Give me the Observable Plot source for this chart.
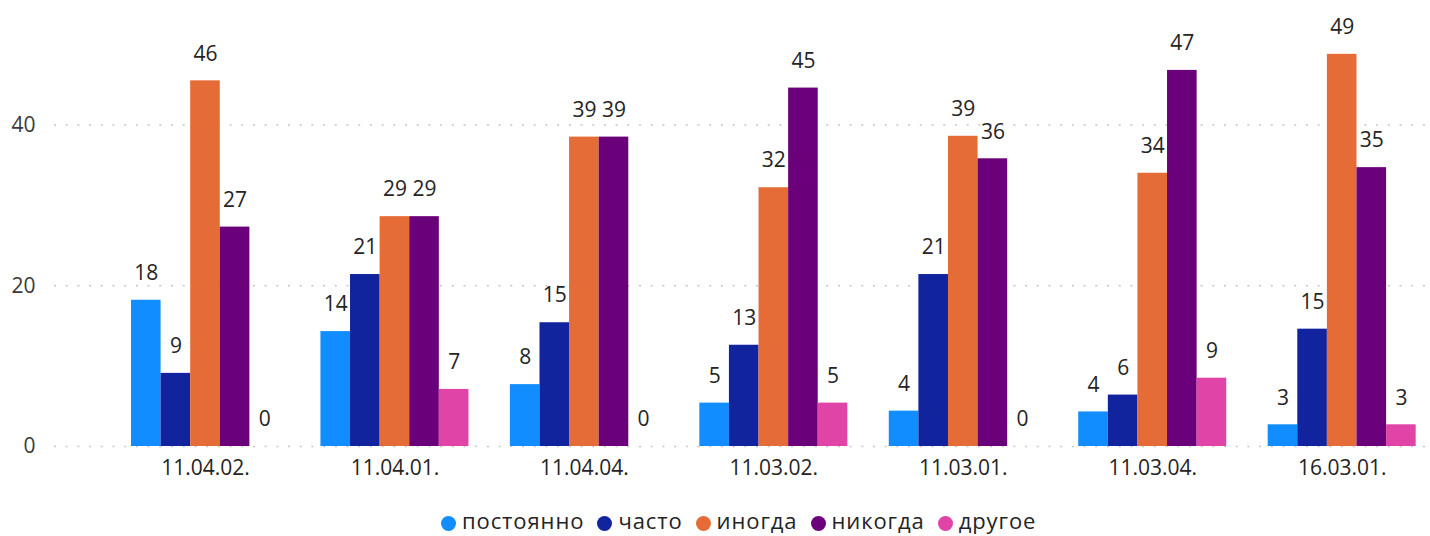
<!DOCTYPE html>
<html>
<head>
<meta charset="utf-8">
<script src="https://cdn.jsdelivr.net/npm/d3@7"></script>
<script src="https://cdn.jsdelivr.net/npm/@observablehq/plot@0.6"></script>
<style>
  html, body { margin: 0; background: #fff; overflow: hidden; }
  #chart { width: 1430px; }
  #plotArea { position: relative; width: 1430px; height: 490px; }
  #plotArea svg { position: absolute; left: 0; top: 0; }
  .legend { display: flex; align-items: center; height: 30px; line-height: 30px; padding-top: 15px; padding-left: 441px;
    font-family: "Segoe UI", "Open Sans", sans-serif; font-size: 22px; letter-spacing: 0.9px; color: #252423; }
  .legend .item { display: flex; align-items: center; margin-right: 13px; }
  .legend .dot { width: 15px; height: 15px; border-radius: 50%; margin-right: 6px; position: relative; top: 3px; }
</style>
</head>
<body>
<div id="chart"><div id="plotArea"></div></div>
<script>
const categories = ["11.04.02.", "11.04.01.", "11.04.04.", "11.03.02.", "11.03.01.", "11.03.04.", "16.03.01."];
const seriesNames = ["постоянно", "часто", "иногда", "никогда", "другое"];
const postoyanno = [18.2, 14.3, 7.7, 5.4, 4.4, 4.3, 2.7];
const chasto     = [9.1, 21.4, 15.4, 12.6, 21.4, 6.4, 14.6];
const inogda     = [45.5, 28.6, 38.5, 32.2, 38.6, 34.0, 48.8];
const nikogda    = [27.3, 28.6, 38.5, 44.6, 35.8, 46.8, 34.7];
const drugoe     = [0, 7.1, 0, 5.4, 0, 8.5, 2.7];
const seriesColors = ["#118DFF", "#12239E", "#E66C37", "#6B007B", "#E044A7"];
const yTicks = [0, 20, 40];

const seriesValues = [postoyanno, chasto, inogda, nikogda, drugoe];
const data = [];
categories.forEach((cat, i) => {
  seriesNames.forEach((s, j) => {
    data.push({cat, series: s, value: seriesValues[j][i]});
  });
});

const common = {
  width: 1430,
  height: 490,
  marginLeft: 54,
  marginRight: 2,
  marginTop: 4,
  marginBottom: 44
};
const font = "'Segoe UI', 'Open Sans', sans-serif";

// Background layer: y grid and y tick labels spanning the full plot width
const back = Plot.plot({
  ...common,
  style: {fontFamily: font, fontSize: "21px", color: "#3b3a39", background: "white"},
  y: {domain: [0, 55]},
  marks: [
    Plot.gridY(yTicks, {stroke: "#C8C6C4", strokeOpacity: 1, strokeWidth: 1.5, strokeDasharray: "2,9.7"}),
    Plot.axisY(yTicks, {tickSize: 0, tickPadding: 19, label: null, fill: "#3b3a39"})
  ]
});

// Foreground layer: grouped bars with fx facets
const front = Plot.plot({
  ...common,
  style: {fontFamily: font, fontSize: "21px", color: "#252423", background: "transparent"},
  fx: {domain: categories, paddingInner: 0.2188, paddingOuter: 0.2357, align: 0.862, round: false, label: null, tickSize: 0, tickPadding: 14, axis: "bottom"},
  x: {domain: seriesNames, padding: 0, round: false, axis: null},
  y: {domain: [0, 55], axis: null},
  color: {domain: seriesNames, range: seriesColors},
  marks: [
    Plot.barY(data, {fx: "cat", x: "series", y: "value", fill: "series"}),
    Plot.text(data, {fx: "cat", x: "series", y: "value", text: d => String(Math.round(d.value)), lineAnchor: "middle", dy: -27, fill: "#252423"})
  ]
});

const area = document.getElementById("plotArea");
area.appendChild(back);
area.appendChild(front);

const legend = document.createElement("div");
legend.className = "legend";
seriesNames.forEach((s, j) => {
  const item = document.createElement("div");
  item.className = "item";
  const dot = document.createElement("span");
  dot.className = "dot";
  dot.style.background = seriesColors[j];
  const label = document.createElement("span");
  label.textContent = s;
  item.appendChild(dot);
  item.appendChild(label);
  legend.appendChild(item);
});
document.getElementById("chart").appendChild(legend);
</script>
</body>
</html>
